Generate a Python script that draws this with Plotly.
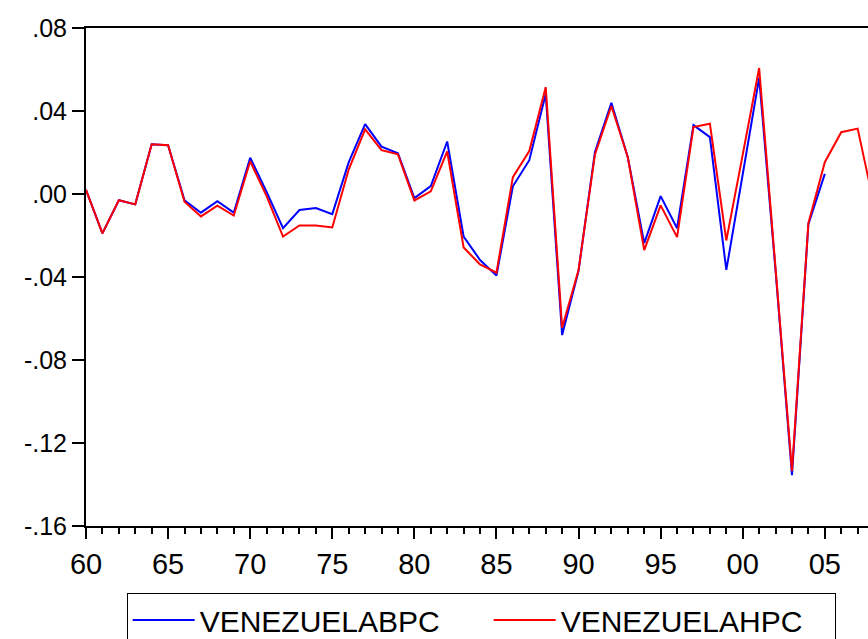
import plotly.graph_objects as go

years = list(range(1960, 2009))

venezuela_bpc = [
    0.002, -0.019, -0.003, -0.005, 0.024, 0.0235, -0.003, -0.009, -0.0035, -0.009,
    0.0175, 0.001, -0.0165, -0.0077, -0.0068, -0.0097, 0.0152, 0.0337, 0.0228, 0.0196,
    -0.002, 0.0038, 0.0253, -0.0205, -0.0318, -0.0393, 0.0037, 0.0163, 0.0482, -0.068,
    -0.037, 0.0203, 0.044, 0.0177, -0.0237, -0.001, -0.0165, 0.0332, 0.0274, -0.0366,
    0.0095, 0.056, -0.037, -0.1355, -0.0145, 0.0097, None, None, None,
]

venezuela_hpc = [
    0.002, -0.019, -0.003, -0.005, 0.024, 0.0235, -0.0037, -0.0108, -0.0056, -0.0104,
    0.0158, -0.001, -0.0205, -0.0152, -0.0152, -0.0161, 0.0118, 0.0312, 0.0211, 0.0191,
    -0.0031, 0.0013, 0.0205, -0.0258, -0.0339, -0.0379, 0.0081, 0.0207, 0.0515, -0.0645,
    -0.0366, 0.0191, 0.0424, 0.0177, -0.027, -0.0055, -0.0208, 0.0323, 0.0339, -0.0224,
    0.019, 0.0607, -0.036, -0.1335, -0.014, 0.0153, 0.0298, 0.0315, -0.0052,
]

x_tick_vals = [1960, 1965, 1970, 1975, 1980, 1985, 1990, 1995, 2000, 2005]
x_tick_text = ["60", "65", "70", "75", "80", "85", "90", "95", "00", "05"]
y_tick_vals = [0.08, 0.04, 0.00, -0.04, -0.08, -0.12, -0.16]
y_tick_text = [".08", ".04", ".00", "-.04", "-.08", "-.12", "-.16"]

fig = go.Figure()
fig.add_trace(go.Scatter(x=years, y=venezuela_bpc, mode="lines", name="VENEZUELABPC",
                         line=dict(color="#0000FF", width=2), legendwidth=284))
fig.add_trace(go.Scatter(x=years, y=venezuela_hpc, mode="lines", name="VENEZUELAHPC",
                         line=dict(color="#FF0000", width=2), legendwidth=269))

font_family = "Liberation Sans, Arial, sans-serif"

fig.update_layout(
    width=868, height=639,
    margin=dict(l=86, r=0, t=28, b=113, autoexpand=False),
    paper_bgcolor="white", plot_bgcolor="white",
    font=dict(family=font_family, color="black"),
    xaxis=dict(
        range=[1960, 2007.63], tickvals=x_tick_vals, ticktext=x_tick_text,
        ticks="outside", ticklen=11, tickwidth=2, tickcolor="black",
        minor=dict(dtick=1, tick0=1960, ticks="outside", ticklen=6, tickwidth=1.5, tickcolor="black"),
        showline=True, linecolor="black", linewidth=2, mirror=True,
        showgrid=False, zeroline=False, tickfont=dict(size=29, family=font_family),
    ),
    yaxis=dict(
        range=[-0.16, 0.08], tickvals=y_tick_vals, ticktext=y_tick_text,
        ticks="outside", ticklen=12, tickwidth=2, tickcolor="black",
        showline=True, linecolor="black", linewidth=2, mirror=False,
        showgrid=False, zeroline=False, tickfont=dict(size=25, family=font_family),
    ),
    legend=dict(
        orientation="h", x=0.052, xanchor="left", y=-0.1345, yanchor="top",
        bordercolor="black", borderwidth=1, font=dict(size=30, family=font_family),
        itemwidth=62, tracegroupgap=0,
    ),
    showlegend=True,
)

fig.write_html("out.html")
